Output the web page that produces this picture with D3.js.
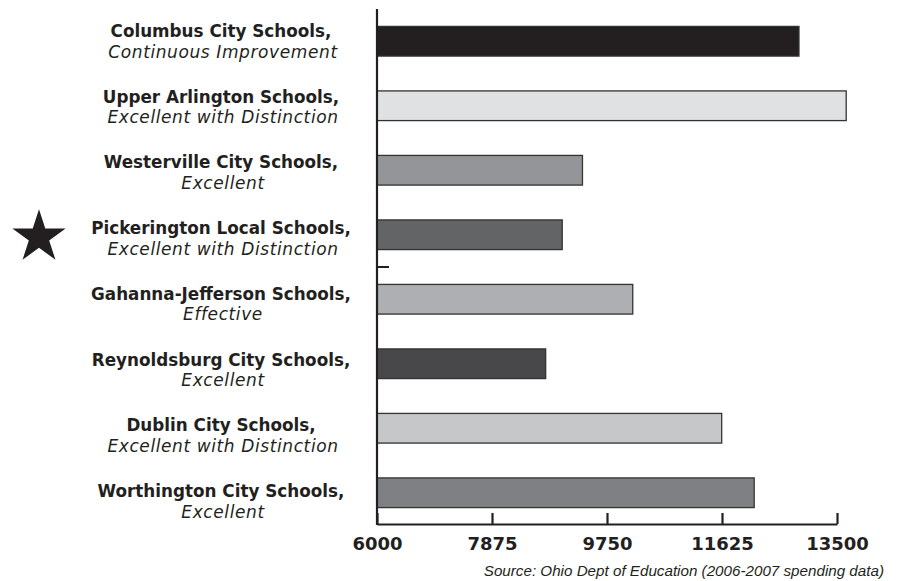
<!DOCTYPE html>
<html><head><meta charset="utf-8">
<script src="https://cdn.jsdelivr.net/npm/d3@7"></script>
<style>
body{margin:0;background:#fff;}
svg{display:block;}
</style></head>
<body>
<script>
const schools = ["Columbus City Schools,","Upper Arlington Schools,","Westerville City Schools,","Pickerington Local Schools,","Gahanna-Jefferson Schools,","Reynoldsburg City Schools,","Dublin City Schools,","Worthington City Schools,"];
const ratings = ["Continuous Improvement","Excellent with Distinction","Excellent","Excellent with Distinction","Effective","Excellent","Excellent with Distinction","Excellent"];
const spending = [12880, 13650, 9350, 9020, 10170, 8750, 11620, 12150];
const barColors = ["#231f20","#e0e1e3","#939598","#636466","#aeafb2","#48484a","#c6c7c9","#7f8083"];
const tickValues = [6000, 7875, 9750, 11625, 13500];
const starred = "Pickerington Local Schools,";
const source = "Source: Ohio Dept of Education (2006-2007 spending data)";

const W = 899, H = 581;
const svg = d3.select("body").append("svg").attr("width", W).attr("height", H);
const ink = "#231f20";

const x = d3.scaleLinear().domain([6000, 13500]).range([377, 837]);
const y = d3.scaleBand().domain(schools).range([9, 525]).paddingInner(0.54).paddingOuter(0.27);
const ly = d3.scalePoint().domain(schools).range([37, 497]);

// bars
svg.append("g").selectAll("rect").data(schools).join("rect")
  .attr("x", x(6000))
  .attr("y", d => y(d))
  .attr("width", (d, i) => x(spending[i]) - x(6000))
  .attr("height", y.bandwidth())
  .attr("fill", (d, i) => barColors[i])
  .attr("stroke", "#333")
  .attr("stroke-width", 1.3);

// x axis
const xAxis = d3.axisBottom(x).tickValues(tickValues).tickSize(-11).tickSizeOuter(0).tickPadding(13).tickFormat(d3.format("d"));
const gx = svg.append("g").attr("transform", "translate(0,524)").call(xAxis);
gx.select(".domain").attr("stroke", ink).attr("stroke-width", 2.2);
gx.selectAll(".tick line").attr("stroke", ink).attr("stroke-width", 2.2);
gx.selectAll(".tick text").attr("fill", ink)
  .style("font-family", "'DejaVu Sans', Verdana, sans-serif")
  .style("font-weight", "bold").style("font-size", "18px");

// y axis line
svg.append("line").attr("x1", 377).attr("x2", 377).attr("y1", 9).attr("y2", 525)
  .attr("stroke", ink).attr("stroke-width", 2.2);
// stray small tick between rows 4 and 5
const midY = (y(schools[3]) + y.bandwidth() + y(schools[4])) / 2;
svg.append("line").attr("x1", 377).attr("x2", 389).attr("y1", midY).attr("y2", midY)
  .attr("stroke", ink).attr("stroke-width", 2);

// labels
const lg = svg.append("g").attr("fill", ink).attr("text-anchor", "middle")
  .style("font-family", "'DejaVu Sans', Verdana, sans-serif");
schools.forEach((s, i) => {
  lg.append("text").attr("x", 221).attr("y", ly(s))
    .style("font-weight", "bold").style("font-size", "16.8px").text(s);
  lg.append("text").attr("x", 223).attr("y", ly(s) + 20.5)
    .style("font-style", "italic").style("font-size", "17px")
    .style("letter-spacing", "0.6px").text(ratings[i]);
});

// star
const star = d3.symbol().type(d3.symbolStar).size(880);
svg.append("path").attr("d", star())
  .attr("transform", `translate(39,${ly(starred) + 3})`)
  .attr("fill", ink);

// source
svg.append("text").attr("x", 884).attr("y", 576).attr("text-anchor", "end")
  .attr("fill", ink)
  .style("font-family", "'Liberation Sans', Arial, sans-serif")
  .style("font-style", "italic").style("font-size", "15.2px")
  .text(source);
</script>
</body></html>
